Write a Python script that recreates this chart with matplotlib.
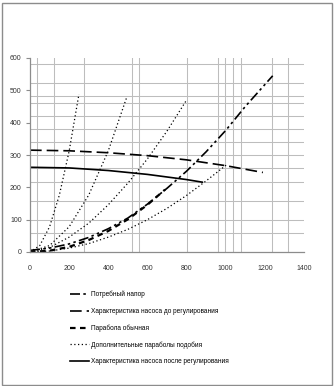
import matplotlib
matplotlib.use("Agg")
import matplotlib.pyplot as plt
from matplotlib.patches import Rectangle

plt.rcParams["font.family"] = ["Liberation Sans", "DejaVu Sans"]

# Потребный напор
q_req = [0, 100, 200, 300, 400, 500, 600, 700, 800, 900, 1000, 1100, 1240]
h_req = [5, 12, 25, 45, 72, 105, 148, 197, 250, 310, 376, 450, 545]

# Характеристика насоса до регулирования
q_pump1 = [0, 200, 400, 600, 800, 1000, 1190]
h_pump1 = [315, 313, 307, 298, 285, 267, 246]

# Парабола обычная
q_par = [0, 100, 200, 300, 400, 500, 600, 690]
h_par = [0, 4, 16, 37, 65, 101, 146, 193]

# Дополнительные параболы подобия
q_sim1 = [0, 50, 100, 150, 200, 250]
h_sim1 = [0, 20, 78, 176, 312, 488]
q_sim2 = [0, 100, 200, 300, 400, 495]
h_sim2 = [0, 20, 78, 176, 313, 480]
q_sim3 = [0, 100, 200, 300, 400, 500, 600, 700, 800]
h_sim3 = [0, 14, 46, 89, 146, 213, 288, 374, 470]
q_sim4 = [0, 100, 200, 300, 400, 500, 600, 700, 800, 900, 1005]
h_sim4 = [0, 3, 12, 26, 46, 70, 100, 135, 175, 220, 270]

# Характеристика насоса после регулирования
q_pump2 = [0, 200, 400, 600, 800, 880]
h_pump2 = [262, 260, 252, 240, 224, 216]

x_ticks = [0, 200, 400, 600, 800, 1000, 1200, 1400]
y_ticks = [0, 100, 200, 300, 400, 500, 600]
x_grid = [38, 123, 277, 519, 557, 801, 959, 996, 1039, 1078, 1235, 1320]
y_grid = [58, 99, 158, 217, 259, 300, 340, 381, 420, 460, 482, 522, 581]

labels = [
    "Потребный напор",
    "Характеристика насоса до регулирования",
    "Парабола обычная",
    "Дополнительные параболы подобия",
    "Характеристика насоса после регулирования",
]

W, H = 334, 386
fig = plt.figure(figsize=(W / 100, H / 100), dpi=100)
fig.patches.append(Rectangle((1.5 / W, 1.5 / H), (W - 4) / W, (H - 4) / H,
                             transform=fig.transFigure, fill=False,
                             edgecolor="#8c8c8c", linewidth=1.0))

ax = fig.add_axes([30 / W, (H - 252) / H, 274 / W, 194 / H])
ax.set_xlim(0, 1400)
ax.set_ylim(0, 600)

for g in x_grid:
    ax.axvline(g, color="#bdbdbd", linewidth=0.75, zorder=0)
for g in y_grid:
    ax.axhline(g, color="#bdbdbd", linewidth=0.75, zorder=0)

for s in ["top", "right"]:
    ax.spines[s].set_visible(False)
for s in ["left", "bottom"]:
    ax.spines[s].set_color("#8c8c8c")
    ax.spines[s].set_linewidth(0.9)

ax.set_xticks(x_ticks)
ax.set_yticks(y_ticks)
ax.tick_params(axis="x", length=0, labelsize=5, pad=9, colors="#333333")
ax.tick_params(axis="y", length=3, width=0.8, color="#8c8c8c", labelsize=5, pad=3,
               labelcolor="#333333")

k = "black"
s_req, = ax.plot(q_req, h_req, color=k, linewidth=1.2, dashes=(6, 2, 1.5, 2, 1.5, 2))
s_p1, = ax.plot(q_pump1, h_pump1, color=k, linewidth=1.2, dashes=(7, 3))
s_par, = ax.plot(q_par, h_par, color=k, linewidth=1.6, dashes=(2.5, 2))
s_sim, = ax.plot(q_sim1, h_sim1, color=k, linewidth=0.9, dashes=(1, 2))
for qq, hh in [(q_sim2, h_sim2), (q_sim3, h_sim3), (q_sim4, h_sim4)]:
    ax.plot(qq, hh, color=k, linewidth=0.9, dashes=(1, 2))
s_p2, = ax.plot(q_pump2, h_pump2, color=k, linewidth=1.2)

handles = [s_req, s_p1, s_par, s_sim, s_p2]
fig.legend(handles, labels, loc="upper left",
           bbox_to_anchor=(70 / W, 1 - 291 / H), frameon=False,
           fontsize=4.7, handlelength=2.9, handletextpad=0.3, labelspacing=1.45,
           borderpad=0, borderaxespad=0)

fig.savefig("out.png", dpi=100)
